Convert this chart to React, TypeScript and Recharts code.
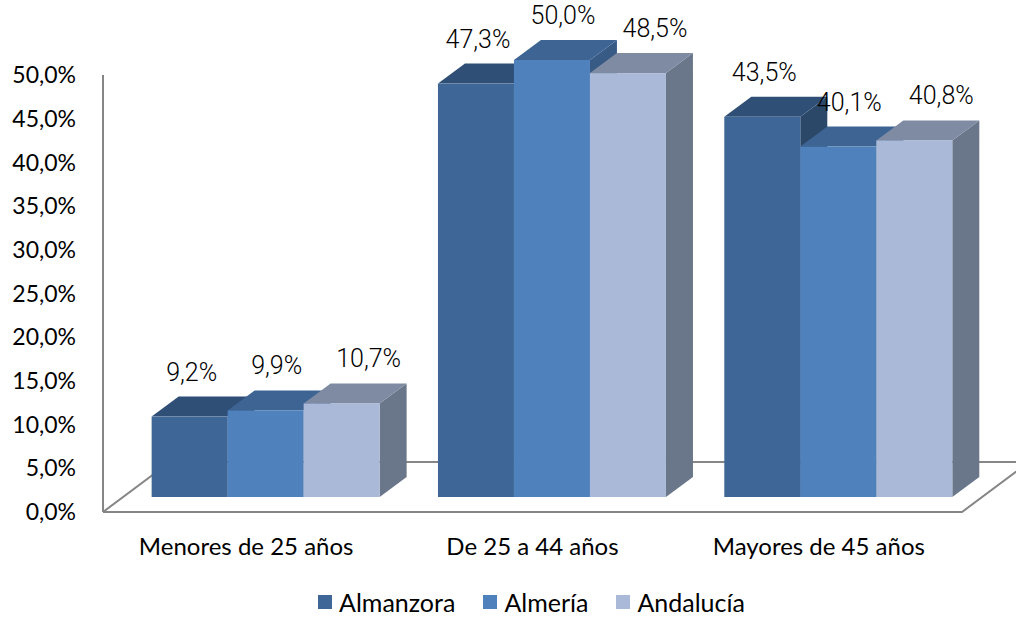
import { BarChart, Bar, XAxis, YAxis, Legend, LabelList, Customized, usePlotArea } from "recharts";

const CATEGORIES = ["Menores de 25 años", "De 25 a 44 años", "Mayores de 45 años"];
const ALMANZORA = [9.2, 47.3, 43.5];
const ALMERIA = [9.9, 50.0, 40.1];
const ANDALUCIA = [10.7, 48.5, 40.8];
const Y_TICKS = [0, 5, 10, 15, 20, 25, 30, 35, 40, 45, 50];

const SERIES = [
  { key: "almanzora", name: "Almanzora", front: "#3E6797", top: "#2F4F77", side: "#2C4868", labelDx: 2 },
  { key: "almeria", name: "Almería", front: "#4F81BD", top: "#3D6493", side: "#385B86", labelDx: 11 },
  { key: "andalucia", name: "Andalucía", front: "#AAB9D7", top: "#7F8BA3", side: "#6A778B", labelDx: 27 },
];

const data = CATEGORIES.map((name, i) => ({
  name,
  almanzora: ALMANZORA[i],
  almeria: ALMERIA[i],
  andalucia: ANDALUCIA[i],
}));

// 3D look: bars sit in the middle of the floor depth
const SHIFT_X = 20;
const SHIFT_Y = -15;
const DEPTH_X = 27;
const DEPTH_Y = -20;
const FLOOR_X = 67;
const FLOOR_Y = -50;

const fmt = (v: number) => v.toFixed(1).replace(".", ",") + "%";

function Floor() {
  const area = usePlotArea();
  if (!area) return null;
  const { x, y, width, height } = area;
  const b = y + height;
  return (
    <polyline
      points={`${x},${b} ${x + width},${b} ${x + width + FLOOR_X},${b + FLOOR_Y} ${x + FLOOR_X},${b + FLOOR_Y} ${x},${b}`}
      fill="none"
      stroke="#868686"
      strokeWidth={2}
    />
  );
}

const makeShape = (s: (typeof SERIES)[number]) => (props: any) => {
  const { x, y, width, height } = props;
  const fx = x + SHIFT_X;
  const fy = y + SHIFT_Y;
  const bottom = fy + height;
  return (
    <g>
      <polygon
        points={`${fx + width},${fy} ${fx + width + DEPTH_X},${fy + DEPTH_Y} ${fx + width + DEPTH_X},${bottom + DEPTH_Y} ${fx + width},${bottom}`}
        fill={s.side}
      />
      <polygon
        points={`${fx},${fy} ${fx + DEPTH_X},${fy + DEPTH_Y} ${fx + width + DEPTH_X},${fy + DEPTH_Y} ${fx + width},${fy}`}
        fill={s.top}
      />
      <rect x={fx} y={fy} width={width} height={height} fill={s.front} />
    </g>
  );
};

const makeLabel = (s: (typeof SERIES)[number]) => (props: any) => {
  const { x, y, width, value } = props;
  return (
    <text
      x={x + SHIFT_X + width / 2 + s.labelDx}
      y={y - 51}
      textAnchor="middle"
      fontFamily="Roboto"
      fontWeight={300}
      fontSize={25}
      fill="#000"
    >
      {fmt(value)}
    </text>
  );
};

function LegendContent() {
  return (
    <div
      style={{
        height: 45,
        display: "flex",
        justifyContent: "center",
        alignItems: "flex-end",
        paddingLeft: 101,
        boxSizing: "border-box",
        paddingBottom: 0,
        fontFamily: "Lato",
        fontSize: 25,
        color: "#000",
      }}
    >
      {SERIES.map((s) => (
        <div key={s.key} style={{ display: "flex", alignItems: "center", margin: "0 14px" }}>
          <span style={{ width: 14, height: 14, background: s.front, marginRight: 7, display: "inline-block" }} />
          <span>{s.name}</span>
        </div>
      ))}
    </div>
  );
}

export default function App() {
  return (
    <div style={{ position: "absolute", left: 0, top: 0, background: "#fff" }}>
      <BarChart
        width={1016}
        height={617}
        data={data}
        margin={{ top: 75, right: 54, left: 0, bottom: 0 }}
        barCategoryGap="10%"
        barGap={0}
      >
        <Customized component={<Floor />} />
        <XAxis
          dataKey="name"
          axisLine={false}
          tickLine={false}
          height={60}
          tickMargin={20}
          tick={{ fill: "#000", fontSize: 24, fontFamily: "Lato" }}
        />
        <YAxis
          domain={[0, 50]}
          ticks={Y_TICKS}
          tickFormatter={fmt}
          width={103}
          tickLine={false}
          tickMargin={21}
          axisLine={{ stroke: "#868686", strokeWidth: 2 }}
          tick={{ fill: "#000", fontSize: 23, fontFamily: "Lato" }}
          interval={0}
        />
        {SERIES.map((s) => (
          <Bar key={s.key} dataKey={s.key} name={s.name} fill={s.front} shape={makeShape(s)} isAnimationActive={false}>
            <LabelList dataKey={s.key} content={makeLabel(s)} />
          </Bar>
        ))}
        <Legend verticalAlign="bottom" height={45} content={<LegendContent />} />
      </BarChart>
    </div>
  );
}
